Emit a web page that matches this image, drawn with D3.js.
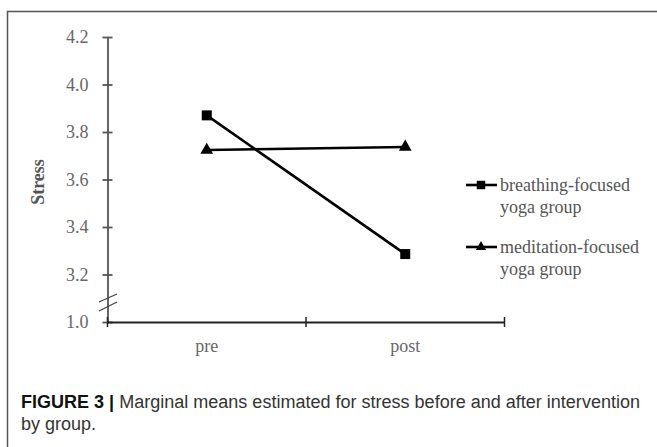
<!DOCTYPE html>
<html><head><meta charset="utf-8">
<script src="https://cdn.jsdelivr.net/npm/d3@7"></script>
<style>body{margin:0;background:#fff}svg{display:block}</style>
</head><body>
<script>
const categories = ["pre", "post"];
const seriesNames = ["breathing-focused yoga group", "meditation-focused yoga group"];
const breathing = [3.87, 3.286];
const meditation = [3.724, 3.737];
const tickValues = [3.0, 3.2, 3.4, 3.6, 3.8, 4.0, 4.2];
const tickLabels = ["1.0", "3.2", "3.4", "3.6", "3.8", "4.0", "4.2"];

const W = 657, H = 447;
const svg = d3.select("body").append("svg").attr("width", W).attr("height", H);

// frame
svg.append("path").attr("d", "M7.5,447V11.5H657").attr("fill", "none").attr("stroke", "#555").attr("stroke-width", 1.5);

const y = d3.scaleLinear().domain([3.0, 4.2]).range([322, 37]);
const x = d3.scaleBand().domain(categories).range([107.5, 504.5]).padding(0);
const serif = "'Liberation Serif','Times New Roman',serif";

// y axis
const yAxis = svg.append("g").attr("transform", "translate(107.5,0)")
  .call(d3.axisLeft(y).tickValues(tickValues).tickFormat((d, i) => tickLabels[i]).tickSizeInner(5).tickSizeOuter(0).tickPadding(14));
yAxis.select(".domain").attr("stroke", "#555").attr("stroke-width", 1.8);
yAxis.selectAll(".tick line").attr("stroke", "#555").attr("stroke-width", 1.8).attr("x2", 5).attr("x1", -5);
yAxis.selectAll(".tick text").attr("fill", "#666").style("font-family", serif).style("font-size", "18px");

// break marks
[[302, 294], [311, 302]].forEach(([a, b]) => {
  svg.append("line").attr("x1", 99).attr("y1", a).attr("x2", 117).attr("y2", b).attr("stroke", "#444").attr("stroke-width", 1.3);
});

// x axis
const xAxis = svg.append("g").attr("transform", "translate(0,322)")
  .call(d3.axisBottom(x).tickSize(0).tickPadding(17));
xAxis.select(".domain").attr("stroke", "#222").attr("stroke-width", 1.8);
xAxis.selectAll(".tick text").attr("fill", "#666").style("font-family", serif).style("font-size", "18px");
const bounds = [x.range()[0], x("post"), x.range()[1]];
xAxis.selectAll(".bound").data(bounds).join("line").attr("class", "bound")
  .attr("x1", d => d).attr("x2", d => d).attr("y1", -5).attr("y2", 5)
  .attr("stroke", "#222").attr("stroke-width", 1.5);

// y label
svg.append("text").attr("transform", "translate(44,182) rotate(-90)").attr("text-anchor", "middle")
  .style("font-family", serif).style("font-size", "18px").style("font-weight", "bold").attr("fill", "#555").text("Stress");

const cx = d => x(d) + x.bandwidth() / 2;
const line = d3.line().x((d, i) => cx(categories[i])).y(d => y(d));
const sq = d3.symbol().type(d3.symbolSquare).size(100);
const tri = d3.symbol().type(d3.symbolTriangle).size(70);

[breathing, meditation].forEach((vals, si) => {
  svg.append("path").datum(vals).attr("d", line).attr("fill", "none").attr("stroke", "#000").attr("stroke-width", 2.6);
  svg.selectAll(".m" + si).data(vals).join("path").attr("class", "m" + si)
    .attr("transform", (d, i) => `translate(${cx(categories[i])},${y(d)})`)
    .attr("d", si ? tri : sq).attr("fill", "#000");
});

// legend
const legY = [185, 247];
const legLines = [["breathing-focused", "yoga group"], ["meditation-focused", "yoga group"]];
legY.forEach((ly, i) => {
  const g = svg.append("g");
  g.append("line").attr("x1", 466).attr("x2", 497).attr("y1", ly).attr("y2", ly).attr("stroke", "#000").attr("stroke-width", 2.6);
  g.append("path").attr("transform", `translate(481,${ly})`).attr("d", i ? d3.symbol().type(d3.symbolTriangle).size(45) : d3.symbol().type(d3.symbolSquare).size(72)).attr("fill", "#000");
  const t = g.append("text").style("font-family", serif).style("font-size", "18px").attr("fill", "#555");
  t.append("tspan").attr("x", 500).attr("y", ly + 6).text(legLines[i][0]);
  t.append("tspan").attr("x", 500).attr("y", ly + 28).text(legLines[i][1]);
});

// caption
const cap = svg.append("text").attr("x", 21).attr("y", 408)
  .style("font-family", "'Liberation Sans Narrow','Liberation Sans',Arial,sans-serif").style("font-size", "18px").attr("fill", "#333")
  .attr("textLength", 619).attr("lengthAdjust", "spacingAndGlyphs");
cap.append("tspan").style("font-weight", "bold").attr("fill", "#111").text("FIGURE 3 | ");
cap.append("tspan").text("Marginal means estimated for stress before and after intervention");
svg.append("text").attr("x", 21).attr("y", 430)
  .style("font-family", "'Liberation Sans Narrow','Liberation Sans',Arial,sans-serif").style("font-size", "18px").attr("fill", "#333")
  .text("by group.");
</script>
</body></html>
